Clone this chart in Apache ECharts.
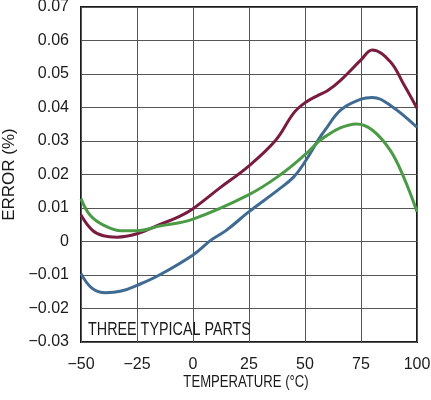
<!DOCTYPE html>
<html>
<head>
<meta charset="utf-8">
<script src="https://cdn.jsdelivr.net/npm/echarts@6/dist/echarts.min.js"></script>
<style>html,body{margin:0;padding:0;background:#fff}#c{width:431px;height:400px}</style>
</head>
<body>
<div id="c"></div>
<script>
var xTicks = [-50, -25, 0, 25, 50, 75, 100];
var yTicks = [-0.03, -0.02, -0.01, 0, 0.01, 0.02, 0.03, 0.04, 0.05, 0.06, 0.07];

var redTemp = [-50,-45,-40,-34,-25,-15,-6,0,12,25,37,45,50,56,60,66,75,80,88,94,100];
var redVal  = [0.0079,0.0034,0.0017,0.0013,0.0023,0.0050,0.0075,0.0098,0.0160,0.0226,0.0303,0.0384,0.0414,0.0437,0.0450,0.0482,0.0542,0.0572,0.0537,0.0470,0.0398];

var blueTemp = [-50,-45,-39,-32,-25,-15,0,8,15,25,38,45,50,56,59,66,75,80,88,100];
var blueVal  = [-0.0096,-0.0140,-0.0153,-0.0148,-0.0131,-0.0100,-0.0040,0.0004,0.0034,0.0089,0.0154,0.0193,0.0238,0.0304,0.0333,0.0393,0.0425,0.0430,0.0407,0.0341];

var greenTemp = [-50,-46,-40,-32,-25,-15,0,25,39,50,56,59,66,73,80,88,94,100];
var greenVal  = [0.0128,0.0079,0.0049,0.0032,0.0032,0.0046,0.0067,0.0140,0.0199,0.0259,0.0298,0.0313,0.0340,0.0351,0.0333,0.0273,0.0193,0.0089];

var noteText = 'THREE TYPICAL PARTS';
var xName = 'TEMPERATURE (°C)';
var yName = 'ERROR (%)';

function pairs(a, b) { return a.map(function (t, i) { return [t, b[i]]; }); }
var REG = '"Liberation Sans", Arial, sans-serif';

var chart = echarts.init(document.getElementById('c'));
chart.setOption({
  animation: false,
  grid: { left: 81, right: 14, top: 7, bottom: 58, containLabel: false, outerBoundsMode: 'none',
    show: true, borderColor: '#1a1a1a', borderWidth: 2, backgroundColor: 'transparent' },
  graphic: [{
    type: 'text', x: 88, y: 321, scaleX: 0.82, z: 10,
    style: { text: noteText, fill: '#1a1a1a', font: '17.5px ' + REG, align: 'left', verticalAlign: 'top' }
  }, {
    type: 'text', x: 246, y: 375, scaleX: 0.82, z: 10,
    style: { text: xName, fill: '#1a1a1a', font: '16px ' + REG, align: 'center', verticalAlign: 'top' }
  }],
  xAxis: {
    type: 'value', min: xTicks[0], max: xTicks[xTicks.length - 1], interval: 25,
    axisLine: { show: false }, axisTick: { show: false },
    axisLabel: { color: '#1a1a1a', fontSize: 16, fontFamily: REG, margin: 15,
      formatter: function (v) { return String(v).replace('-', '\u2212'); } },
    splitLine: { show: true, lineStyle: { color: '#555', width: 1 } }
  },
  yAxis: {
    type: 'value', min: yTicks[0], max: yTicks[yTicks.length - 1], interval: 0.01,
    name: yName, nameLocation: 'middle', nameGap: 62, nameRotate: 90,
    nameTextStyle: { color: '#1a1a1a', fontSize: 17, fontFamily: REG },
    axisLine: { show: false }, axisTick: { show: false },
    axisLabel: { color: '#1a1a1a', fontSize: 16, fontFamily: REG, margin: 12,
      formatter: function (v) { var r = Math.round(v * 100) / 100; return r === 0 ? '0' : r.toFixed(2).replace('-', '\u2212'); } },
    splitLine: { show: true, lineStyle: { color: '#555', width: 1 } }
  },
  series: [
    { type: 'line', data: pairs(redTemp, redVal), smooth: 0.4, showSymbol: false, lineStyle: { color: '#7a1c40', width: 3 } },
    { type: 'line', data: pairs(blueTemp, blueVal), smooth: 0.4, showSymbol: false, lineStyle: { color: '#3f6b92', width: 3 } },
    { type: 'line', data: pairs(greenTemp, greenVal), smooth: 0.4, showSymbol: false, lineStyle: { color: '#4b9b46', width: 3 } }
  ]
});
</script>
</body>
</html>
